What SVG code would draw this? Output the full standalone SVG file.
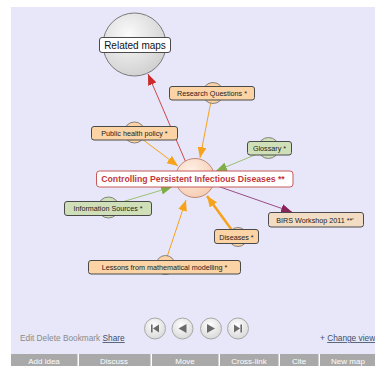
<svg xmlns="http://www.w3.org/2000/svg" width="375" height="366" viewBox="0 0 375 366">
<defs>
<style>
.box{stroke:#4a4a4a;stroke-width:1}
.or{fill:#fcd3a4}
.gr{fill:#cfe0b8}
.tan{fill:#f3dcc4}
.bub{stroke:#6a6a6a;stroke-width:0.8}
.t{font-family:"Liberation Sans",Arial,sans-serif;font-size:7.2px;fill:#222;text-anchor:middle}
.ln{fill:none}
.bar{font-family:"Liberation Sans",Arial,sans-serif;font-size:8px;fill:#fff;text-anchor:middle}
.nav{fill:url(#navg);stroke:#a8a8a8;stroke-width:1}
.gl{fill:#6a6a6a}
.lk{font-family:"Liberation Sans",Arial,sans-serif;font-size:8.3px}
</style>
<radialGradient id="rmg" cx="0.4" cy="0.35" r="0.7">
<stop offset="0" stop-color="#fbfbfb"/><stop offset="1" stop-color="#cfcfcf"/>
</radialGradient>
<radialGradient id="cg" cx="0.4" cy="0.35" r="0.7">
<stop offset="0" stop-color="#fff3ea"/><stop offset="1" stop-color="#f5cbb0"/>
</radialGradient>
<radialGradient id="navg" cx="0.45" cy="0.35" r="0.7">
<stop offset="0" stop-color="#ffffff"/><stop offset="1" stop-color="#d6d6d6"/>
</radialGradient>
<marker id="aR" markerUnits="userSpaceOnUse" markerWidth="11" markerHeight="9" refX="11" refY="4.5" orient="auto"><path d="M0,0 L11,4.5 L0,9 z" fill="#cc2a2a"/></marker>
<marker id="aO" markerUnits="userSpaceOnUse" markerWidth="11" markerHeight="9" refX="11" refY="4.5" orient="auto"><path d="M0,0 L11,4.5 L0,9 z" fill="#f7a21c"/></marker>
<marker id="aG" markerUnits="userSpaceOnUse" markerWidth="11" markerHeight="9" refX="11" refY="4.5" orient="auto"><path d="M0,0 L11,4.5 L0,9 z" fill="#7fae48"/></marker>
<marker id="aP" markerUnits="userSpaceOnUse" markerWidth="11" markerHeight="9" refX="11" refY="4.5" orient="auto"><path d="M0,0 L11,4.5 L0,9 z" fill="#8a2458"/></marker>
</defs>
<rect x="0" y="0" width="375" height="366" fill="#ffffff"/>
<rect x="11" y="7" width="364" height="347" fill="#e7e7f9"/>

<g id="connectors">
<line class="ln" x1="190" y1="172" x2="148" y2="74" stroke="#d04848" stroke-width="1" marker-end="url(#aR)"/>
<line class="ln" x1="212" y1="96" x2="200" y2="158" stroke="#f7a21c" stroke-width="1" marker-end="url(#aO)"/>
<line class="ln" x1="138" y1="136" x2="178" y2="166" stroke="#f7a21c" stroke-width="1" marker-end="url(#aO)"/>
<line class="ln" x1="262" y1="152" x2="216" y2="171" stroke="#9cc070" stroke-width="1" marker-end="url(#aG)"/>
<line class="ln" x1="112" y1="205" x2="172" y2="187" stroke="#9cc070" stroke-width="1" marker-end="url(#aG)"/>
<line class="ln" x1="200" y1="180" x2="292" y2="212" stroke="#9a4c86" stroke-width="1" marker-end="url(#aP)"/>
<line class="ln" x1="234" y1="233" x2="207" y2="196" stroke="#f7a21c" stroke-width="2.5" marker-end="url(#aO)"/>
<line class="ln" x1="166" y1="260" x2="186" y2="200" stroke="#f7a21c" stroke-width="1" marker-end="url(#aO)"/>
</g>

<g id="related-maps">
<circle cx="134.5" cy="44.5" r="31.5" fill="url(#rmg)" stroke="#7a7a7a" stroke-width="1"/>
<rect x="99.5" y="37.5" width="71" height="15" rx="2.5" fill="#ffffff" stroke="#4a4a4a" stroke-width="1"/>
<text x="135" y="48.5" font-family="Liberation Sans, Arial, sans-serif" font-size="10px" fill="#111" text-anchor="middle">Related maps</text>
</g>

<g id="research-questions">
<circle cx="213" cy="93" r="10.5" class="or bub"/>
<rect x="169.5" y="86.5" width="85" height="13.5" rx="2.5" class="or box"/>
<text x="212" y="96" class="t">Research Questions *</text>
</g>

<g id="public-health-policy">
<circle cx="134.5" cy="132.5" r="10.5" class="or bub"/>
<rect x="91.5" y="126.5" width="86" height="13.5" rx="2.5" class="or box"/>
<text x="134.5" y="136" class="t">Public health policy *</text>
</g>

<g id="glossary">
<circle cx="268.5" cy="148" r="10.5" class="gr bub"/>
<rect x="247.5" y="141.5" width="44" height="13.5" rx="2.5" class="gr box"/>
<text x="269.5" y="151" class="t">Glossary *</text>
</g>

<g id="information-sources">
<circle cx="108.5" cy="207.5" r="10.5" class="gr bub"/>
<rect x="64.5" y="201.5" width="87" height="14" rx="2.5" class="gr box"/>
<text x="108" y="211" class="t">Information Sources *</text>
</g>

<g id="birs-workshop">
<rect x="268.5" y="212.5" width="95" height="14.5" rx="2.5" class="tan box"/>
<text x="315" y="222.5" class="t">BIRS Workshop 2011 **'</text>
</g>

<g id="diseases">
<circle cx="238" cy="237" r="9.5" class="or bub"/>
<rect x="214.5" y="229.5" width="44" height="14" rx="2.5" class="or box"/>
<text x="236.5" y="239.5" class="t">Diseases *</text>
</g>

<g id="lessons">
<circle cx="165.5" cy="265" r="9.5" class="or bub"/>
<rect x="88.5" y="260.5" width="152" height="13.5" rx="2.5" class="or box"/>
<text x="164.5" y="270" class="t">Lessons from mathematical modelling *</text>
</g>

<g id="center">
<circle cx="195" cy="178" r="19.5" fill="url(#cg)" stroke="#c08878" stroke-width="1"/>
<rect x="96.5" y="171" width="196.5" height="16" rx="3" fill="#ffffff" stroke="#c85a5a" stroke-width="1"/>
<text x="193" y="182.3" font-family="Liberation Sans, Arial, sans-serif" font-size="8.7px" font-weight="bold" fill="#c0393b" text-anchor="middle">Controlling Persistent Infectious Diseases **</text>
</g>

<g id="navigation">
<circle cx="155" cy="328.5" r="10.5" class="nav"/>
<rect x="151" y="324.5" width="1.6" height="8" class="gl"/><path d="M159,324.5 L153,328.5 L159,332.5 z" class="gl"/>
<circle cx="182.5" cy="328.5" r="10.5" class="nav"/>
<path d="M186.5,324 L178.5,328.5 L186.5,333 z" class="gl"/>
<circle cx="211" cy="328.5" r="10.5" class="nav"/>
<path d="M207,324 L215,328.5 L207,333 z" class="gl"/>
<circle cx="238" cy="328.5" r="10.5" class="nav"/>
<path d="M234,324.5 L240,328.5 L234,332.5 z" class="gl"/><rect x="240.4" y="324.5" width="1.6" height="8" class="gl"/>
</g>

<g id="links">
<text x="20" y="341" class="lk" fill="#8a8a8a">Edit Delete Bookmark <tspan fill="#3c4f6a" text-decoration="underline">Share</tspan></text>
<text x="320" y="341" class="lk" fill="#3c4f6a">+ <tspan text-decoration="underline">Change view</tspan></text>
</g>

<g id="toolbar">
<rect x="11" y="354" width="364" height="12" fill="#a9a9a9"/>
<rect x="77.5" y="354" width="1.5" height="12" fill="#ffffff"/>
<rect x="150.5" y="354" width="1.5" height="12" fill="#ffffff"/>
<rect x="218.5" y="354" width="1.5" height="12" fill="#ffffff"/>
<rect x="278.5" y="354" width="1.5" height="12" fill="#ffffff"/>
<rect x="318.5" y="354" width="1.5" height="12" fill="#ffffff"/>
<text x="44" y="363.5" class="bar">Add idea</text>
<text x="114" y="363.5" class="bar">Discuss</text>
<text x="185" y="363.5" class="bar">Move</text>
<text x="249" y="363.5" class="bar">Cross-link</text>
<text x="299" y="363.5" class="bar">Cite</text>
<text x="348" y="363.5" class="bar">New map</text>
</g>
</svg>
